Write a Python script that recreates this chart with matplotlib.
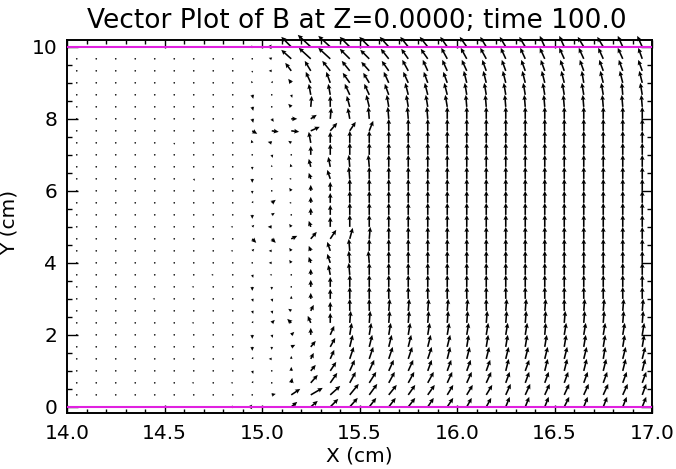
import numpy as np
import matplotlib
matplotlib.use('Agg')
import matplotlib.pyplot as plt
from matplotlib.ticker import MultipleLocator

# sample positions of the field (cm)
x_cm = [14.05, 14.15, 14.25, 14.35, 14.45, 14.55, 14.65, 14.75, 14.85, 14.95,
        15.05, 15.15, 15.25, 15.35, 15.45, 15.55, 15.65, 15.75, 15.85, 15.95,
        16.05, 16.15, 16.25, 16.35, 16.45, 16.55, 16.65, 16.75, 16.85, 16.95]
y_cm = [0.0, 0.333, 0.667, 1.0, 1.333, 1.667, 2.0, 2.333, 2.667, 3.0,
        3.333, 3.667, 4.0, 4.333, 4.667, 5.0, 5.333, 5.667, 6.0, 6.333,
        6.667, 7.0, 7.333, 7.667, 8.0, 8.333, 8.667, 9.0, 9.333, 9.667,
        10.0]

# Bx and By, one list per x column, listed from y=0 up to y=10
bx_cols = [
    [0,0,0,0,0,0,0,0,0,0, 0,0,0,0,0,0,0,0,0,0, 0,0,0,0,0,0,0,0,0,0, 0],
    [0,0,0,0,0,0,0,0,0,0, 0,0,0,0,0,0,0,0,0,0, 0,0,0,0,0,0,0,0,0,0, 0],
    [0,0,0,0,0,0,0,0,0,0, 0,0,0,0,0,0,0,0,0,0, 0,0,0,0,0,0,0,0,0,0, 0],
    [0,0,0,0,0,0,0,0,0,0, 0,0,0,0,0,0,0,0,0,0, 0,0,0,0,0,0,0,0,0,0, 0],
    [0,0,0,0,0,0,0,0,0,-2, 0,0,0,0,0,0,0,0,0,0, 0,0,0,0,0,0,0,0,0,0, 0],
    [0,0,0,0,0,0,0,0,0,0, 0,0,0,0,0,0,0,0,0,0, 0,0,0,0,0,0,0,0,0,0, 0],
    [0,0,-2,0,0,0,0,-2,0,0, -2,0,0,0,0,0,0,0,0,1, 0,0,0,0,0,0,0,0,0,0, 0],
    [0,0,0,0,0,0,0,0,0,0, 0,-2,0,0,0,0,0,0,0,0, 0,0,0,0,0,0,0,0,0,0, 0],
    [-3,0,-2,0,0,0,-1,0,0,0, 0,0,0,-2,0,-2,0,0,0,0, 0,0,0,0,0,-1,0,1,0,0, 0],
    [-5,0,1,1,1,0,0,1,1,1, 0,1,1,2,4,2,0,1,0,0, 0,0,-1,5,1,1,1,-1,0,1, -3],
    [-2,4,0,0,-3,0,1,3,1,1, 0,-2,-3,-3,4,-4,3,4,0,0, 0,1,-4,7,2,1,0,1,-3,-3, -5],
    [6,9,1,0,0,4,3,-4,-3,0, 0,0,-2,-2,6,-2,0,-2,-2,-2, -1,0,-3,8,6,-3,1,-3,-6,-10, -10],
    [7,12,7,5,3,5,0,-3,3,0, 0,0,-2,-2,6,-2,0,0,0,-2, -2,0,-2,9,6,1,-2,-5,-6,-12, -13],
    [8,10,7,6,4,5,4,0,0,0, 0,-2,-3,-3,6,0,0,0,0,-3, -2,0,0,7,1,0,-2,-4,-8,-12, -12],
    [8,9,6,5,4,3,2,1,0,0, 0,-1,-1,-1,3,0,0,0,0,-1, -1,0,0,6,-2,-3,-5,-7,-8,-10, -10],
    [7,8,7,5,4,3,2,1,0,0, 0,0,-1,0,1,0,0,0,0,0, -1,0,0,4,-1,-3,-5,-6,-8,-9, -10],
    [7,8,6,5,4,3,2,1,1,0, 0,0,0,0,0,0,0,0,0,0, 0,0,0,0,-1,-2,-4,-5,-7,-8, -9],
    [7,7,6,5,4,3,2,1,1,0, 0,0,0,0,0,0,0,0,0,0, 0,0,0,0,-1,-2,-3,-5,-6,-7, -8],
    [6,7,6,4,4,3,2,1,1,0, 0,0,0,0,0,0,0,0,0,0, 0,0,0,0,-1,-2,-3,-4,-5,-7, -8],
    [6,6,5,4,3,3,2,1,1,0, 0,0,0,0,0,0,0,0,0,0, 0,0,0,0,0,-2,-3,-4,-5,-6, -7],
    [5,6,5,4,3,2,2,1,1,0, 0,0,0,0,0,0,0,0,0,0, 0,0,0,0,0,-1,-2,-3,-5,-6, -7],
    [5,6,5,4,3,2,2,1,0,0, 0,0,0,0,0,0,0,0,0,0, 0,0,0,0,0,-1,-2,-3,-4,-6, -6],
    [4,5,4,3,3,2,2,1,1,0, 0,0,0,0,0,0,0,0,0,0, 0,0,0,0,0,-1,-2,-3,-4,-5, -6],
    [4,5,4,4,3,2,2,1,1,0, 0,0,0,0,0,0,0,0,0,0, 0,0,0,0,0,-1,-2,-3,-4,-5, -6],
    [4,5,4,3,3,2,1,1,1,0, 0,0,0,0,0,0,0,0,0,0, 0,0,0,0,0,-1,-2,-3,-4,-5, -5],
    [5,5,4,3,3,2,2,1,0,0, 0,0,0,0,0,0,0,0,0,0, 0,0,0,0,0,-1,-2,-3,-4,-5, -5],
    [4,5,4,3,3,2,2,1,1,0, 0,0,0,0,0,0,0,0,0,0, 0,0,0,0,0,-1,-2,-2,-4,-5, -6],
    [4,5,4,3,2,2,2,1,1,0, 0,0,0,0,0,0,0,0,0,0, 0,0,0,0,0,-1,-2,-3,-4,-5, -6],
    [4,5,4,3,3,2,2,1,1,0, 0,0,0,0,0,0,0,0,0,0, 0,0,0,0,0,-1,-1,-3,-4,-5, -5],
    [4,4,4,3,3,2,2,1,1,0, 0,0,0,0,0,0,0,0,0,0, 0,0,0,0,0,-1,-2,-3,-4,-4, -5],
]
by_cols = [
    [0,0,0,0,0,0,0,0,0,0, 0,0,0,0,0,0,0,0,0,0, 0,0,0,0,0,0,0,0,0,0, 0],
    [0,0,0,0,0,0,0,0,0,0, 0,0,0,0,0,0,0,0,0,0, 0,0,0,0,0,0,0,0,0,0, 0],
    [0,0,0,0,0,0,0,0,0,0, 0,0,0,0,0,0,0,0,0,0, 0,0,0,0,0,0,0,0,0,0, 0],
    [0,0,0,0,0,0,0,0,0,0, 0,0,0,0,0,0,0,0,0,0, 0,0,0,0,0,0,0,0,0,0, 0],
    [0,0,0,0,0,0,0,0,0,0, 0,0,0,0,0,0,0,0,0,0, 0,0,0,0,0,0,0,0,0,0, 0],
    [0,0,0,0,0,0,0,0,0,0, 0,0,0,0,0,0,0,0,0,0, 0,0,-2,0,0,0,0,0,0,0, 0],
    [0,0,0,0,0,0,0,0,0,0, 0,0,0,0,0,0,0,0,0,-2, 0,0,0,0,0,0,0,0,0,0, 0],
    [0,0,0,0,0,0,0,0,0,0, 0,0,0,0,0,0,0,0,0,0, 0,0,0,0,0,0,0,0,0,0, 0],
    [0,0,0,0,0,0,1,0,0,1, 0,0,0,0,0,0,0,0,0,0, 0,0,0,0,0,0,0,1,0,1, 0],
    [0,0,2,-3,2,-4,-4,2,-3,-3, -4,-3,1,2,-4,2,-4,2,-3,-4, -3,0,3,-3,-4,-4,-4,2,-2,1, 0],
    [0,1,1,0,0,-3,-3,3,-3,-3, -3,0,0,0,-4,0,2,3,1,1, 2,-3,1,-1,-3,-1,1,2,0,1, 0],
    [5,6,5,4,3,2,3,4,2,3, 1,1,3,3,3,3,1,0,3,0, 3,1,2,-1,0,3,-3,4,8,9, 10],
    [6,7,8,6,6,6,7,7,6,6, 7,6,6,5,7,6,7,6,6,6, 8,9,11,4,4,11,11,11,10,11, 12],
    [8,9,10,9,9,9,9,10,9,10, 10,10,9,9,9,10,10,10,9,9, 10,11,11,8,11,11,11,11,10,11, 11],
    [9,11,11,11,12,12,12,12,12,12, 12,12,12,12,11,12,12,12,12,12, 12,12,12,9,11,11,11,10,10,10, 10],
    [9,11,11,11,12,12,12,12,12,12, 12,12,12,12,12,12,12,12,12,12, 12,12,12,10,12,12,11,10,9,9, 10],
    [9,10,11,11,12,12,12,12,12,12, 12,12,12,12,12,12,12,12,12,12, 12,12,12,12,12,12,11,11,10,10, 10],
    [9,10,11,11,12,12,12,12,12,12, 12,12,12,12,12,12,12,12,12,12, 12,12,12,12,12,12,12,11,11,10, 10],
    [9,10,11,11,12,12,12,12,12,12, 12,12,12,12,12,12,12,12,12,12, 12,12,12,12,12,12,12,11,11,10, 10],
    [9,10,11,11,12,12,12,12,12,12, 12,12,12,12,12,12,12,12,12,12, 12,12,12,12,12,12,12,11,11,11, 10],
    [9,10,11,11,12,12,12,12,12,12, 12,12,12,12,12,12,12,12,12,12, 12,12,12,12,12,12,12,12,11,11, 10],
    [9,10,11,11,12,12,12,12,12,12, 12,12,12,12,12,12,12,12,12,12, 12,12,12,12,12,12,12,12,11,11, 10],
    [10,11,11,12,12,12,12,12,12,12, 12,12,12,12,12,12,12,12,12,12, 12,12,12,12,12,12,12,12,11,11, 10],
    [10,11,11,11,12,12,12,12,12,12, 12,12,12,12,12,12,12,12,12,12, 12,12,12,12,12,12,12,12,11,11, 10],
    [10,11,11,12,12,12,12,12,12,12, 12,12,12,12,12,12,12,12,12,12, 12,12,12,12,12,12,12,12,11,11, 11],
    [10,11,11,12,12,12,12,12,12,12, 12,12,12,12,12,12,12,12,12,12, 12,12,12,12,12,12,12,12,11,11, 11],
    [10,11,11,12,12,12,12,12,12,12, 12,12,12,12,12,12,12,12,12,12, 12,12,12,12,12,12,12,12,11,11, 10],
    [10,11,11,12,12,12,12,12,12,12, 12,12,12,12,12,12,12,12,12,12, 12,12,12,12,12,12,12,12,11,11, 10],
    [10,11,11,12,12,12,12,12,12,12, 12,12,12,12,12,12,12,12,12,12, 12,12,12,12,12,12,12,12,11,11, 11],
    [10,11,11,12,12,12,12,12,12,12, 12,12,12,12,12,12,12,12,12,12, 12,12,12,12,12,12,12,12,11,11, 11],
]

# plate boundaries drawn in magenta
boundary_y = [0.0, 10.0]

plt.rcParams['font.family'] = 'DejaVu Sans'

fig = plt.figure(figsize=(6.76, 4.69), dpi=100)
ax = fig.add_axes([67 / 676, 1 - 413 / 469, 585 / 676, 373 / 469])

X, Y = np.meshgrid(x_cm, y_cm)
U = np.array(bx_cols).T
V = np.array(by_cols).T

ax.quiver(X, Y, U, V, angles='uv', units='dots', width=1.6,
          scale_units='dots', scale=1, pivot='tail', color='black',
          headwidth=3.0, headlength=3.2, headaxislength=2.8,
          minlength=1.1, minshaft=1, clip_on=False, zorder=2)

for yb in boundary_y:
    ax.axhline(yb, color='#e020e0', lw=1.5, zorder=3)

ax.set_xlim(14.0, 17.0)
ax.set_ylim(-0.17, 10.19)
ax.xaxis.set_major_locator(MultipleLocator(0.5))
ax.xaxis.set_minor_locator(MultipleLocator(0.1))
ax.yaxis.set_major_locator(MultipleLocator(2))
ax.yaxis.set_minor_locator(MultipleLocator(0.5))
ax.xaxis.set_major_formatter(plt.FormatStrFormatter('%.1f'))
ax.yaxis.set_major_formatter(plt.FormatStrFormatter('%d'))

for side in ax.spines.values():
    side.set_linewidth(1.4)
ax.tick_params(which='both', direction='in', top=True, right=True,
               width=1.0, labelsize=14.5)
ax.tick_params(axis='x', which='major', length=5.5, pad=8)
ax.tick_params(axis='x', which='minor', length=2.7)
ax.tick_params(axis='y', which='major', length=8, pad=7)
ax.tick_params(axis='y', which='minor', length=3.8)

fig.text(357 / 676, 1 - 28 / 469, 'Vector Plot of B at Z=0.0000; time 100.0',
         ha='center', va='baseline', fontsize=19)
fig.text(359 / 676, 1 - 456 / 469, 'X (cm)', ha='center', va='center', fontsize=14.5)
fig.text(9 / 676, 1 - 222 / 469, 'Y (cm)', ha='center', va='center',
         rotation=90, fontsize=14.5)

fig.savefig('out.png', dpi=100)
